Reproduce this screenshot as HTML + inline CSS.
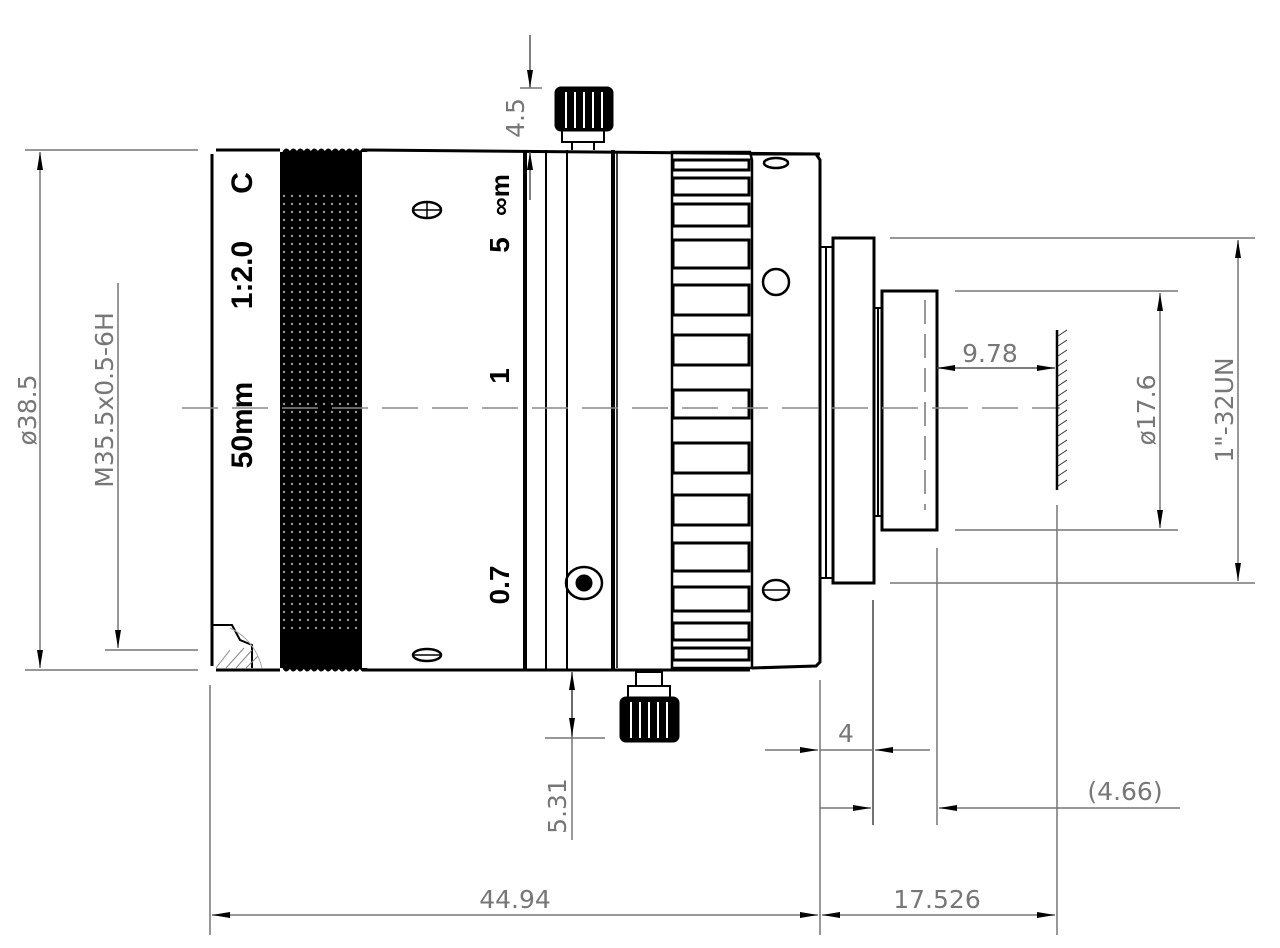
<!DOCTYPE html>
<html><head><meta charset="utf-8"><style>html,body{margin:0;padding:0;background:#fff}svg{display:block}</style></head>
<body>
<svg width="1280" height="948" viewBox="0 0 1280 948" xmlns="http://www.w3.org/2000/svg">
<defs>
<pattern id="kn" width="8" height="8" patternUnits="userSpaceOnUse">
<rect width="8" height="8" fill="#000"/>
<circle cx="4" cy="4" r="1.2" fill="#fff" opacity="0.6"/>
</pattern>
<marker id="a" viewBox="0 0 18 6" refX="18" refY="3" markerWidth="18" markerHeight="6" markerUnits="userSpaceOnUse" orient="auto-start-reverse" preserveAspectRatio="none"><path d="M0,0 L18,3 L0,6z" fill="#000"/></marker>
</defs>
<g fill="none" stroke="#000" stroke-width="3">
<path d="M216,150 L280,150 M216,670 L280,670 M212,154 L212,666"/>
<rect x="280" y="152" width="82" height="516" fill="url(#kn)" stroke="none"/>
<rect x="280" y="152" width="82" height="40" fill="#000" stroke="none"/>
<rect x="280" y="630" width="82" height="38" fill="#000" stroke="none"/>
<path d="M283,152 q3,-6 7,0 q3,-6 7,0 q3,-6 7,0 q3,-6 7,0 q3,-6 7,0 q3,-6 7,0 q3,-6 7,0 q3,-6 7,0 q3,-6 7,0 q3,-6 7,0 q3,-6 7,0 q3,-6 7,0" fill="#000" stroke-width="1"/>
<path d="M283,668 q3,6 7,0 q3,6 7,0 q3,6 7,0 q3,6 7,0 q3,6 7,0 q3,6 7,0 q3,6 7,0 q3,6 7,0 q3,6 7,0 q3,6 7,0 q3,6 7,0 q3,6 7,0" fill="#000" stroke-width="1"/>
<path d="M362,150 L820,154 M362,670 L750,670"/>
<path d="M525,150 L525,670" stroke-width="4"/>
<path d="M546,150 L546,670 M567,150 L567,670" stroke-width="2"/>
<path d="M613,150 L613,670" stroke-width="4"/>
<path d="M617,152 L617,668" stroke-width="1.5"/>
<path d="M672,152 L750,152 L752,160 L752,668 L672,668 Z" stroke-width="2.5"/>
<g stroke-width="3">
<rect x="673" y="160" width="76" height="10"/>
<rect x="673" y="178" width="76" height="17"/>
<rect x="673" y="204" width="76" height="22"/>
<rect x="673" y="240" width="76" height="28"/>
<rect x="673" y="285" width="76" height="30"/>
<rect x="673" y="335" width="76" height="30"/>
<rect x="673" y="390" width="76" height="28"/>
<rect x="673" y="443" width="76" height="30"/>
<rect x="673" y="495" width="76" height="30"/>
<rect x="673" y="543" width="76" height="28"/>
<rect x="673" y="587" width="76" height="24"/>
<rect x="673" y="623" width="76" height="17"/>
<rect x="673" y="648" width="76" height="12"/>
</g>
<path d="M752,154 L816,154 L820,160 L820,662 L816,666 L752,668"/>
<path d="M820,247 L833,247 M820,578 L833,578 M826,247 L826,578" stroke-width="2"/>
<rect x="833" y="238" width="41" height="345"/>
<path d="M874,308 L882,308 M874,516 L882,516 M878,308 L878,516" stroke-width="2"/>
<rect x="882" y="291" width="55" height="239"/>
<path d="M925,300 L925,510" stroke="#777" stroke-width="1.5" stroke-dasharray="24,10"/>
<rect x="556" y="88" width="56" height="42" rx="5" fill="#000"/>
<path d="M566,92 L566,128 M575,92 L575,128 M584,92 L584,128 M593,92 L593,128 M602,92 L602,128" stroke="#fff" stroke-width="2"/>
<rect x="562" y="130" width="42" height="12" stroke-width="2"/>
<path d="M572,142 L572,150 M594,142 L594,150" stroke-width="2"/>
<rect x="621" y="698" width="57" height="43" rx="5" fill="#000"/>
<path d="M631,702 L631,738 M640,702 L640,738 M649,702 L649,738 M658,702 L658,738 M667,702 L667,738" stroke="#fff" stroke-width="2"/>
<rect x="628" y="686" width="42" height="12" stroke-width="2"/>
<rect x="636" y="672" width="26" height="14" stroke-width="2"/>
<ellipse cx="427" cy="210" rx="14" ry="8" stroke-width="2.5"/><path d="M413,210 L441,210 M427,202 L427,218" stroke-width="1.5"/>
<ellipse cx="427" cy="655" rx="14" ry="6" stroke-width="2.5"/><path d="M413,655 L441,655" stroke-width="1.5"/>
<ellipse cx="584" cy="583" rx="18" ry="16" stroke-width="2.5"/><circle cx="584" cy="583" r="7" fill="#000"/>
<ellipse cx="776" cy="163" rx="12" ry="5" stroke-width="2.5"/>
<circle cx="776" cy="282" r="13" stroke-width="2.5"/>
<ellipse cx="776" cy="590" rx="13" ry="10" stroke-width="2.5"/><path d="M763,590 L789,590" stroke-width="1.5"/>
<path d="M212,625 L232,625 L240,640 L252,645 L252,668" stroke-width="2"/>
<path d="M216,668 L230,650 M226,668 L244,648 M236,668 L252,650 M246,668 L258,656" stroke="#888" stroke-width="1"/>
<path d="M230,628 Q255,640 262,668" stroke="#aaa" stroke-width="1"/>
</g>
<path d="M182,408 L1060,408" stroke="#888" stroke-width="1.5" stroke-dasharray="36,14"/>
<path d="M1057,330 L1057,490" stroke="#000" stroke-width="2.5"/>
<path d="M1058,336 l9,-6 M1058,346 l9,-6 M1058,356 l9,-6 M1058,366 l9,-6 M1058,376 l9,-6 M1058,386 l9,-6 M1058,396 l9,-6 M1058,406 l9,-6 M1058,416 l9,-6 M1058,426 l9,-6 M1058,436 l9,-6 M1058,446 l9,-6 M1058,456 l9,-6 M1058,466 l9,-6 M1058,476 l9,-6 M1058,486 l9,-6" stroke="#333" stroke-width="1"/>
<g stroke="#777" stroke-width="1.5" fill="none">
<path d="M25,150 L198,150 M25,670 L198,670 M105,650 L198,650"/>
<path d="M40,152 L40,668" marker-start="url(#a)" marker-end="url(#a)"/>
<path d="M118,283 L118,648" marker-end="url(#a)"/>
<path d="M530,35 L530,88" marker-end="url(#a)" stroke="#555"/>
<path d="M530,200 L530,152" marker-end="url(#a)" stroke="#555"/>
<path d="M520,88 L542,88"/>
<path d="M572,738 L572,672" marker-end="url(#a)" stroke="#555"/>
<path d="M572,690 L572,736" marker-end="url(#a)" stroke="#555"/>
<path d="M572,738 L572,840 M545,738 L605,738"/>
<path d="M937,368 L1055,368" marker-start="url(#a)" marker-end="url(#a)" stroke="#555"/>
<path d="M955,291 L1178,291 M955,530 L1178,530"/>
<path d="M1160,293 L1160,528" marker-start="url(#a)" marker-end="url(#a)"/>
<path d="M890,238 L1255,238 M890,583 L1255,583"/>
<path d="M1238,240 L1238,581" marker-start="url(#a)" marker-end="url(#a)"/>
<path d="M1057,505 L1057,935 M210,685 L210,935 M820,680 L820,935 M937,548 L937,825"/>
<path d="M873,600 L873,825" stroke="#444"/>
<path d="M765,750 L818,750" marker-end="url(#a)"/>
<path d="M930,750 L875,750" marker-end="url(#a)"/>
<path d="M820,750 L873,750"/>
<path d="M820,808 L871,808" marker-end="url(#a)"/>
<path d="M1180,808 L939,808" marker-end="url(#a)"/>
<path d="M212,915 L818,915" marker-start="url(#a)" marker-end="url(#a)"/>
<path d="M822,915 L1055,915" marker-start="url(#a)" marker-end="url(#a)"/>
</g>
<g fill="#777" font-family="'DejaVu Sans','Liberation Sans',sans-serif" font-size="25" text-anchor="middle">
<text transform="translate(36,410) rotate(-90)">ø38.5</text>
<text transform="translate(113,400) rotate(-90)">M35.5x0.5-6H</text>
<text transform="translate(524,118) rotate(-90)">4.5</text>
<text transform="translate(566,806) rotate(-90)">5.31</text>
<text x="990" y="362">9.78</text>
<text transform="translate(1155,410) rotate(-90)">ø17.6</text>
<text transform="translate(1233,410) rotate(-90)">1"-32UN</text>
<text x="846" y="742">4</text>
<text x="1125" y="800">(4.66)</text>
<text x="515" y="908">44.94</text>
<text x="937" y="908">17.526</text>
</g>
<g fill="#000" font-family="'Liberation Sans',sans-serif" font-weight="bold" font-size="30" text-anchor="middle">
<text transform="translate(252,183) rotate(-90)">C</text>
<text transform="translate(252,275) rotate(-90)">1:2.0</text>
<text transform="translate(252,425) rotate(-90)">50mm</text>
<text transform="translate(509,195) rotate(-90)" font-size="26">∞m</text>
<text transform="translate(509,245) rotate(-90)" font-size="28">5</text>
<text transform="translate(509,376) rotate(-90)" font-size="28">1</text>
<text transform="translate(509,585) rotate(-90)" font-size="28">0.7</text>
</g>
</svg>
</body></html>
